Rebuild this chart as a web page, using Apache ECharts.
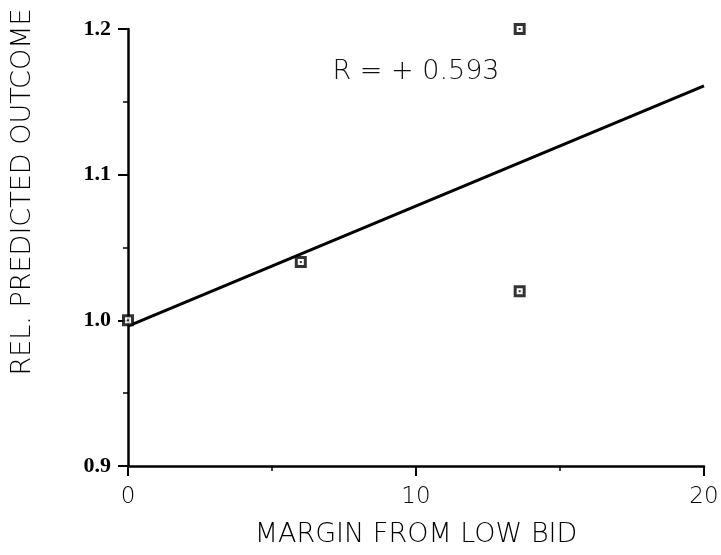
<!DOCTYPE html>
<html>
<head>
<meta charset="utf-8">
<script src="https://cdn.jsdelivr.net/npm/echarts@6/dist/echarts.min.js"></script>
<style>
  html, body { margin: 0; padding: 0; background: #fff; }
  #chart { width: 721px; height: 555px; }
</style>
</head>
<body>
<div id="chart"></div>
<script>
// Observed bids: margin from low bid vs. relative predicted outcome
const marginX = [0, 6, 13.6, 13.6];
const outcomeY = [1.0, 1.04, 1.2, 1.02];

// Least-squares fit line endpoints
const fitX = [0, 20];
const fitY = [0.996, 1.161];

// Correlation annotation (centre of the text, in data units)
const rText = 'R = + 0.593';
const rPos = [10, 1.1705];

const xTitle = 'MARGIN FROM LOW BID';
const yTitle = 'REL. PREDICTED OUTCOME';

const thinFont = 'DejaVu Sans';
const ink = '#000';

const chart = echarts.init(document.getElementById('chart'), null, { renderer: 'canvas' });

const points = marginX.map((x, i) => [x, outcomeY[i]]);
const fit = fitX.map((x, i) => [x, fitY[i]]);

chart.setOption({
  animation: false,
  backgroundColor: '#fff',
  grid: {
    left: 128, right: 17, top: 29, bottom: 89,
    containLabel: false,
    outerBoundsMode: 'none'
  },
  xAxis: {
    type: 'value',
    min: 0, max: 20, interval: 10,
    name: xTitle,
    nameLocation: 'middle',
    nameGap: 55,
    nameTextStyle: { fontFamily: thinFont, fontWeight: 200, fontSize: 27, color: ink },
    axisLine: { show: true, onZero: false, lineStyle: { color: ink, width: 2.5 } },
    axisTick: { show: true, inside: false, length: 10, lineStyle: { color: ink, width: 2 } },
    minorTick: { show: true, splitNumber: 2, length: 5, lineStyle: { color: ink, width: 1.5 } },
    axisLabel: { margin: 20, fontFamily: thinFont, fontWeight: 200, fontSize: 23, color: ink },
    splitLine: { show: false }
  },
  yAxis: {
    type: 'value',
    min: 0.9, max: 1.2, interval: 0.1,
    axisLine: { show: true, onZero: false, lineStyle: { color: ink, width: 2.5 } },
    axisTick: { show: true, inside: false, length: 10, lineStyle: { color: ink, width: 2 } },
    minorTick: { show: true, splitNumber: 2, length: 5, lineStyle: { color: ink, width: 1.5 } },
    axisLabel: {
      margin: 17,
      fontFamily: 'Liberation Serif',
      fontWeight: 'bold',
      fontSize: 22,
      color: ink,
      formatter: v => v.toFixed(1)
    },
    splitLine: { show: false }
  },
  graphic: [
    {
      type: 'text',
      x: 23,
      y: 192,
      rotation: Math.PI / 2,
      style: {
        text: yTitle,
        fontFamily: thinFont,
        fontWeight: 200,
        fontSize: 27,
        fill: ink,
        align: 'center',
        verticalAlign: 'middle'
      }
    }
  ],
  series: [
    {
      type: 'line',
      data: fit,
      symbol: 'none',
      lineStyle: { color: ink, width: 3 },
      z: 2,
      markPoint: {
        symbol: 'rect',
        symbolSize: 0,
        data: [{ coord: rPos }],
        label: {
          show: true,
          position: 'inside',
          formatter: rText,
          fontFamily: thinFont,
          fontWeight: 200,
          fontSize: 27,
          color: '#111'
        }
      }
    },
    {
      type: 'scatter',
      data: points,
      symbol: 'rect',
      symbolSize: 9,
      itemStyle: { color: '#fff', borderColor: ink, borderWidth: 3 },
      z: 3
    },
    {
      type: 'scatter',
      data: points,
      symbol: 'rect',
      symbolSize: 2,
      itemStyle: { color: ink },
      z: 4
    }
  ]
});
</script>
</body>
</html>
